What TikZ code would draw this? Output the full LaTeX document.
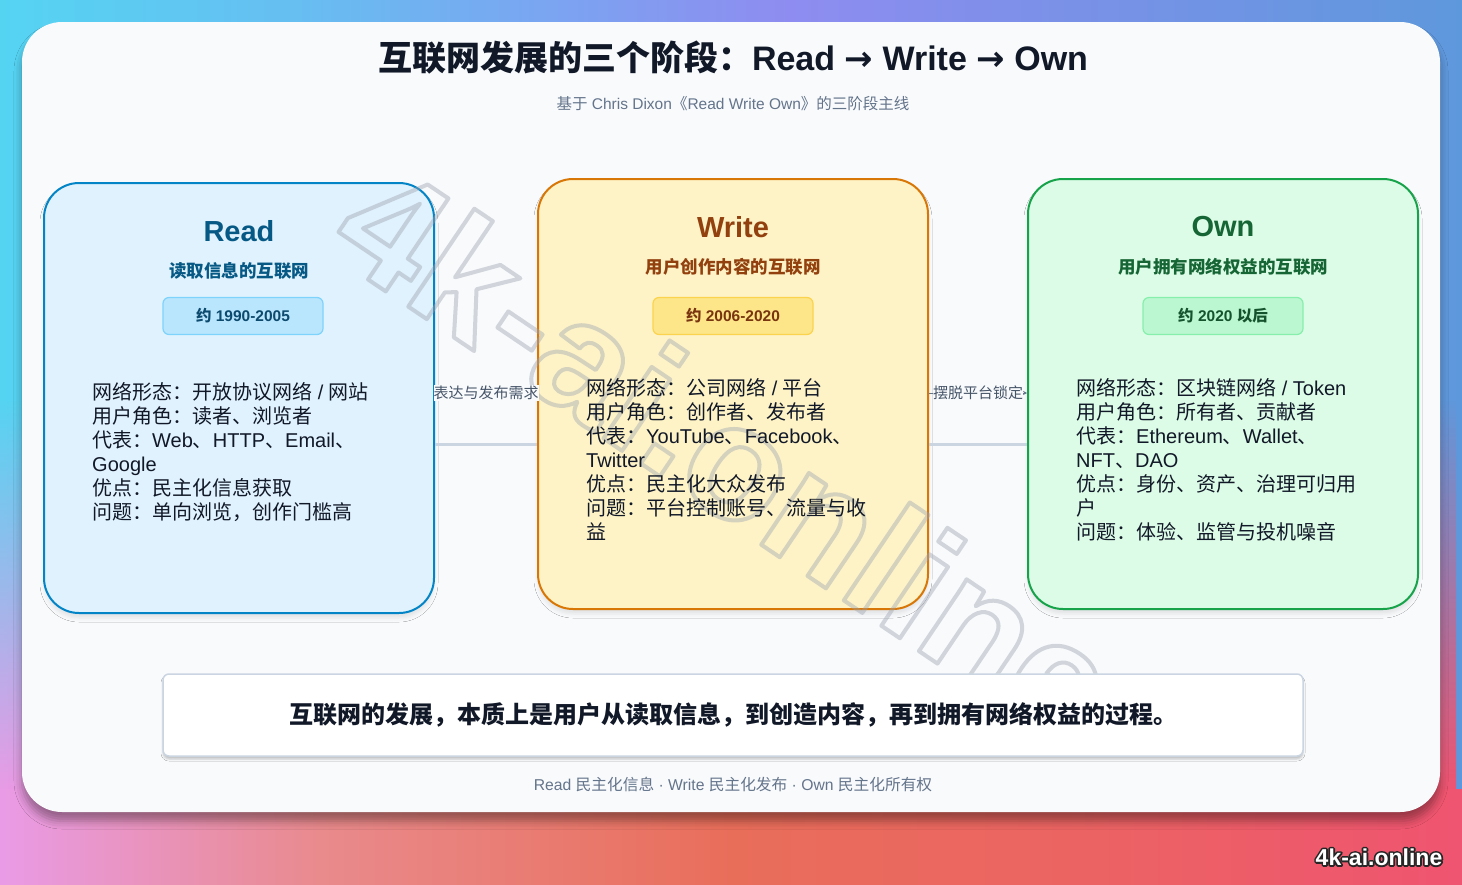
\documentclass[tikz,border=0pt]{standalone}
\usepackage{fontspec}
\setmainfont{Liberation Sans}
\newfontfamily\cjk{Noto Sans CJK SC}
\newfontfamily\arrowfont{DejaVu Sans}
\usetikzlibrary{shadows.blur,fadings,arrows.meta}
% automatic CJK font switching
\XeTeXinterchartokenstate=1
\newXeTeXintercharclass\CJKclass
\makeatletter
\count@="3000 \loop\XeTeXcharclass\count@=\CJKclass\advance\count@ 1 \ifnum\count@<"3040 \repeat
\count@="4E00 \loop\XeTeXcharclass\count@=\CJKclass\advance\count@ 1 \ifnum\count@<"A000 \repeat
\count@="FF00 \loop\XeTeXcharclass\count@=\CJKclass\advance\count@ 1 \ifnum\count@<"FFF0 \repeat
\makeatother
\XeTeXinterchartoks 0 \CJKclass = {\begingroup\cjk}
\XeTeXinterchartoks 4095 \CJKclass = {\begingroup\cjk}
\XeTeXinterchartoks \CJKclass 0 = {\endgroup}
\XeTeXinterchartoks \CJKclass 4095 = {\endgroup}

\definecolor{bgTL}{HTML}{55D4F2}
\definecolor{bgTM}{HTML}{8E8CF0}
\definecolor{bgTR}{HTML}{5E98DC}
\definecolor{bgBL}{HTML}{E99BE6}
\definecolor{bgBA}{HTML}{E98A8C}
\definecolor{bgBM}{HTML}{E96E5A}
\definecolor{bgBR}{HTML}{EF5470}
\definecolor{card}{HTML}{F8FAFC}
\definecolor{ink}{HTML}{111827}
\definecolor{muted}{HTML}{64748B}
\definecolor{lblc}{HTML}{475569}
\definecolor{linec}{HTML}{CBD5E1}
\definecolor{rFill}{HTML}{E0F2FE}\definecolor{rDraw}{HTML}{0284C7}
\definecolor{rTitle}{HTML}{075985}\definecolor{rTagF}{HTML}{BAE6FD}
\definecolor{rTagD}{HTML}{7DD3FC}\definecolor{rTagT}{HTML}{0C4A6E}
\definecolor{wFill}{HTML}{FEF3C7}\definecolor{wDraw}{HTML}{D97706}
\definecolor{wTitle}{HTML}{92400E}\definecolor{wTagF}{HTML}{FDE68A}
\definecolor{wTagD}{HTML}{FCD34D}\definecolor{wTagT}{HTML}{78350F}
\definecolor{oFill}{HTML}{DCFCE7}\definecolor{oDraw}{HTML}{16A34A}
\definecolor{oTitle}{HTML}{166534}\definecolor{oTagF}{HTML}{BBF7D0}
\definecolor{oTagD}{HTML}{86EFAC}\definecolor{oTagT}{HTML}{14532D}
\definecolor{wmc}{HTML}{9CA3AF}

% TikZ maps 25bp..75bp of a shading onto the path's box
\pgfdeclarehorizontalshading{bottomsh}{100bp}{color(0bp)=(bgBL); color(25bp)=(bgBL); color(36bp)=(bgBA); color(50bp)=(bgBM); color(62bp)=(bgBM!60!bgBR); color(75bp)=(bgBR); color(100bp)=(bgBR)}
\pgfdeclarehorizontalshading{topsh}{100bp}{color(0bp)=(bgTL); color(25bp)=(bgTL); color(35bp)=(bgTL!70!bgTM); color(52bp)=(bgTM); color(75bp)=(bgTR); color(100bp)=(bgTR)}

\tikzfading[name=fadeup, top color=transparent!100, bottom color=transparent!0]

\newcommand{\rarr}{{\arrowfont\bfseries →}}

\tikzset{
  stage/.style={rounded corners=35pt, line width=2pt, minimum width=390pt,
    minimum height=430pt, inner sep=0pt,
    blur shadow={shadow xshift=0pt, shadow yshift=-5pt, shadow blur radius=4pt, shadow opacity=9}},
  stitle/.style={font=\fontsize{29}{32}\selectfont\bfseries, inner sep=0pt},
  ssub/.style={font=\fontsize{17.5}{20}\selectfont\bfseries, inner sep=0pt},
  tagbox/.style={rounded corners=6pt, line width=1.2pt, minimum width=160pt,
    minimum height=37pt, inner sep=0pt, font=\fontsize{15.5}{18}\selectfont\bfseries},
  body/.style={font=\fontsize{20}{24}\selectfont, text=ink, align=left,
    inner sep=0pt, anchor=north west},
  conn/.style={draw=linec, line width=3pt},
  flow/.style={draw=muted, line width=0.8pt, -{Stealth[length=4pt,width=4pt]}},
  lbl/.style={font=\fontsize{15}{18}\selectfont, text=lblc, fill=card,
    inner xsep=0pt, inner ysep=1pt},
}

\begin{document}
\begin{tikzpicture}[x=1pt,y=-1pt]
\useasboundingbox (0,0) rectangle (1462,884);
% background gradient
\shade[shading=topsh] (0,0) rectangle (1462,884);
\shade[shading=bottomsh, path fading=fadeup] (0,400) rectangle (1462,790);
\shade[shading=bottomsh] (0,789) rectangle (1462,884);
% card
\fill[card, rounded corners=40pt,
  blur shadow={shadow xshift=0pt, shadow yshift=-9pt, shadow blur radius=8pt, shadow opacity=35}]
  (22,22) rectangle (1440,812);

% titles
\node[font=\fontsize{34}{40}\selectfont\bfseries, text=ink] (title) at (733,58) {互联网发展的三个阶段：Read \rarr{} Write \rarr{} Own};
\node[font=\fontsize{15.5}{18}\selectfont, text=muted] (subtitle) at (733,104) {基于 Chris Dixon《Read Write Own》的三阶段主线};

% stage boxes
\node[stage, fill=rFill, draw=rDraw] (read) at (239,398) {};
\node[stage, fill=wFill, draw=wDraw] (write) at (733,394) {};
\node[stage, fill=oFill, draw=oDraw] (own) at (1223,394) {};

% connectors
\coordinate (y444) at (0,444);
\coordinate (y393) at (0,393);
\draw[conn] (read.east |- y444) -- (write.west |- y444);
\draw[conn] (write.east |- y444) -- (own.west |- y444);
\draw[flow] (read.east |- y393) -- (write.west |- y393);
\draw[flow] (write.east |- y393) -- (own.west |- y393);

% watermark
\begin{scope}[opacity=0.42]
\node[rotate=-34, font=\fontsize{163}{163}\selectfont\bfseries, text=wmc] (wm) at (728,452)
  {\special{pdf:literal direct 1 Tr 4 w 1 j}4k-ai.online};
\end{scope}

% connector labels
\node[lbl] (l1) at ($(read.east |- y393)!0.5!(write.west |- y393)$) {表达与发布需求};
\node[lbl] (l2) at ($(write.east |- y393)!0.5!(own.west |- y393)$) {摆脱平台锁定};

% Read
\node[stitle, text=rTitle] (readT) at (239,231) {Read};
\node[ssub, text=rTitle] (readS) at (239,271) {读取信息的互联网};
\node[tagbox, fill=rTagF, draw=rTagD, text=rTagT] (readG) at (243,316) {约 1990-2005};
\node[body] (readB) at (92,382) {网络形态：开放协议网络 / 网站\\
用户角色：读者、浏览者\\
代表：Web、HTTP、Email、\\
Google\\
优点：民主化信息获取\\
问题：单向浏览，创作门槛高};

% Write
\node[stitle, text=wTitle] (writeT) at (733,227) {Write};
\node[ssub, text=wTitle] (writeS) at (733,267) {用户创作内容的互联网};
\node[tagbox, fill=wTagF, draw=wTagD, text=wTagT] (writeG) at (733,316) {约 2006-2020};
\node[body] (writeB) at (586,378) {网络形态：公司网络 / 平台\\
用户角色：创作者、发布者\\
代表：YouTube、Facebook、\\
Twitter\\
优点：民主化大众发布\\
问题：平台控制账号、流量与收\\
益};

% Own
\node[stitle, text=oTitle] (ownT) at (1223,227) {Own};
\node[ssub, text=oTitle] (ownS) at (1223,267) {用户拥有网络权益的互联网};
\node[tagbox, fill=oTagF, draw=oTagD, text=oTagT] (ownG) at (1223,316) {约 2020 以后};
\node[body] (ownB) at (1076,378) {网络形态：区块链网络 / Token\\
用户角色：所有者、贡献者\\
代表：Ethereum、Wallet、\\
NFT、DAO\\
优点：身份、资产、治理可归用\\
户\\
问题：体验、监管与投机噪音};

% summary
\node[fill=white, draw=linec, line width=1.5pt, rounded corners=6pt,
  minimum width=1140pt, minimum height=82pt, inner sep=0pt,
  blur shadow={shadow xshift=0pt, shadow yshift=-3pt, shadow blur radius=2pt, shadow opacity=22},
  font=\fontsize{24}{28}\selectfont\bfseries, text=ink] (summary) at (733,715)
  {互联网的发展，本质上是用户从读取信息，到创造内容，再到拥有网络权益的过程。};

% footer
\node[font=\fontsize{15.7}{18}\selectfont, text=muted] (footer) at (733,784)
  {Read 民主化信息 · Write 民主化发布 · Own 民主化所有权};

% corner mark
\node[font=\fontsize{23}{26}\selectfont\bfseries, text=black!85] (mark) at (1379,857)
  {\special{pdf:literal direct 2 Tr 3.5 w 1 j}4k-ai.online};
\node[font=\fontsize{23}{26}\selectfont\bfseries, text=white] (markw) at (mark) {4k-ai.online};
\end{tikzpicture}
\end{document}
